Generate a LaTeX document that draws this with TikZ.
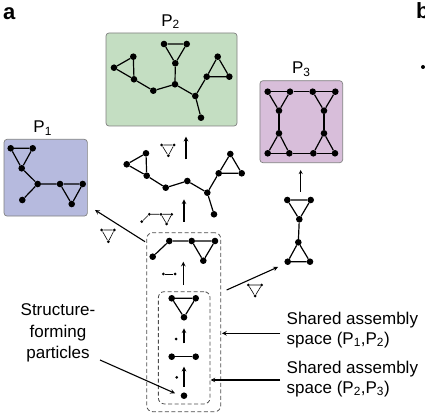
\documentclass[tikz,border=0pt]{standalone}
\usepackage{fontspec}
\setmainfont{Liberation Sans}
\usetikzlibrary{positioning,arrows}
\definecolor{boxone}{RGB}{182,186,222}
\definecolor{boxtwo}{RGB}{196,222,194}
\definecolor{boxthree}{RGB}{216,190,218}

\begin{document}
\begin{tikzpicture}[x=1pt,y=-1pt]

		\tikzstyle{module}=[rectangle,
			draw=black!50,line width=0.7pt,
			rounded corners=3pt,inner sep=0mm]
		\tikzstyle{spacebox}=[rectangle,
			draw=black!70,line width=0.8pt,
			dash pattern=on 4pt off 2.5pt,
			rounded corners=6pt,inner sep=0mm]
		\tikzstyle{dot}=[circle,fill=black,inner sep=0mm,minimum size=6.6pt]
		\tikzstyle{tdot}=[circle,fill=black,inner sep=0mm,minimum size=3pt]
		\tikzstyle{bond}=[draw=black,line width=1.2pt]
		\tikzstyle{tbond}=[draw=black,line width=0.6pt]
		\tikzstyle{arrow}=[->,>=stealth,draw=black,line width=1.1pt]
		\tikzstyle{txt}=[inner sep=0mm,font=\fontsize{17}{20}\selectfont]

		\useasboundingbox (0,0) rectangle (425,419);

		% panel letters
		\node[inner sep=0mm,font=\fontsize{22}{22}\selectfont\bfseries]	(panela)	at (9.2,13.3)	{a};
		\node[inner sep=0mm,anchor=base west,font=\fontsize{22}{22}\selectfont\bfseries]	(panelb)	at (416,18.3)	{b};
		\node[tdot,minimum size=4pt]	(bfrag)	at (423,67)	{};

		% products
		\node[module,fill=boxone,minimum width=83.3pt,minimum height=76.7pt]	(pone)	at (45.7,177.7)	{};
		\node[module,fill=boxtwo,minimum width=131pt,minimum height=93pt]	(ptwo)	at (171.5,79.5)	{};
		\node[module,fill=boxthree,minimum width=82.7pt,minimum height=82pt]	(pthree)	at (301.3,121.7)	{};
		\node[txt,above=3.5pt of pone,xshift=-3pt]	(lone)	{P\textsubscript{1}};
		\node[txt,above=3.5pt of ptwo,xshift=-1pt]	(ltwo)	{P\textsubscript{2}};
		\node[txt,above=3.5pt of pthree]	(lthree)	{P\textsubscript{3}};

		% shared assembly spaces
		\node[spacebox,minimum width=74pt,minimum height=179pt]	(outer)	at (183.7,322.2)	{};
		\node[spacebox,minimum width=51.7pt,minimum height=112.3pt]	(inner)	at (184.2,347.8)	{};

		% P1
		\node[dot]	(pa1)	at (10.7,148.3)	{};
		\node[dot]	(pa2)	at (32.7,148.3)	{};
		\node[dot]	(pa3)	at (21.7,168.3)	{};
		\node[dot]	(pb1)	at (37.7,184)	{};
		\node[dot]	(pb2)	at (60,184)	{};
		\node[dot]	(pb3)	at (82.7,184)	{};
		\node[dot]	(pb4)	at (71.7,204)	{};
		\node[dot]	(pb5)	at (22.3,200)	{};
		\draw[bond]	(pa1) -- (pa2) -- (pa3) -- (pa1);
		\draw[bond]	(pa3) -- (pb1) -- (pb2) -- (pb3) -- (pb4) -- (pb2);
		\draw[bond]	(pb1) -- (pb5);

		% P2
		\node[dot]	(ga1)	at (164,44)	{};
		\node[dot]	(ga2)	at (186.7,44)	{};
		\node[dot]	(ga3)	at (175.3,63.3)	{};
		\node[dot]	(gb1)	at (114,67.7)	{};
		\node[dot]	(gb2)	at (133.3,56.7)	{};
		\node[dot]	(gb3)	at (134,79.3)	{};
		\node[dot]	(gc1)	at (153.3,90.7)	{};
		\node[dot]	(gc2)	at (175,84.3)	{};
		\node[dot]	(gc3)	at (195.3,96)	{};
		\node[dot]	(gc4)	at (201,117.7)	{};
		\node[dot]	(gd1)	at (206.7,76.7)	{};
		\node[dot]	(gd2)	at (217.7,56.7)	{};
		\node[dot]	(gd3)	at (229.3,76.7)	{};
		\draw[bond]	(ga1) -- (ga2) -- (ga3) -- (ga1);
		\draw[bond]	(gb1) -- (gb2) -- (gb3) -- (gb1);
		\draw[bond]	(gd1) -- (gd2) -- (gd3) -- (gd1);
		\draw[bond]	(gb3) -- (gc1) -- (gc2) -- (gc3) -- (gc4);
		\draw[bond]	(ga3) -- (gc2);
		\draw[bond]	(gc3) -- (gd1);

		% P3
		\node[dot]	(qa1)	at (267.7,91.7)	{};
		\node[dot]	(qa2)	at (290,91.7)	{};
		\node[dot]	(qa3)	at (312.7,91.7)	{};
		\node[dot]	(qa4)	at (335.3,91.7)	{};
		\node[dot]	(qb1)	at (279,110.7)	{};
		\node[dot]	(qb2)	at (324,110.7)	{};
		\node[dot]	(qc1)	at (279,133.3)	{};
		\node[dot]	(qc2)	at (324,133.3)	{};
		\node[dot]	(qd1)	at (267.7,153.3)	{};
		\node[dot]	(qd2)	at (289.3,153.3)	{};
		\node[dot]	(qd3)	at (313.3,153.3)	{};
		\node[dot]	(qd4)	at (335,153.3)	{};
		\draw[bond]	(qa1) -- (qa2) -- (qa3) -- (qa4);
		\draw[bond]	(qd1) -- (qd2) -- (qd3) -- (qd4);
		\draw[bond]	(qa1) -- (qb1) -- (qa2);
		\draw[bond]	(qa3) -- (qb2) -- (qa4);
		\draw[bond]	(qd1) -- (qc1) -- (qd2);
		\draw[bond]	(qd3) -- (qc2) -- (qd4);
		\draw[bond]	(qb1) -- (qc1);
		\draw[bond]	(qb2) -- (qc2);

		% intermediate towards P3
		\node[dot]	(ra1)	at (287.3,200)	{};
		\node[dot]	(ra2)	at (310.7,200)	{};
		\node[dot]	(ra3)	at (299.3,219.3)	{};
		\node[dot]	(ra4)	at (298.3,242.3)	{};
		\node[dot]	(ra5)	at (287.7,261.7)	{};
		\node[dot]	(ra6)	at (310,261.7)	{};
		\draw[bond]	(ra1) -- (ra2) -- (ra3) -- (ra1);
		\draw[bond]	(ra4) -- (ra5) -- (ra6) -- (ra4);
		\draw[bond]	(ra3) -- (ra4);

		% intermediate towards P2
		\node[dot]	(ma1)	at (126.7,164.3)	{};
		\node[dot]	(ma2)	at (146,153.3)	{};
		\node[dot]	(ma3)	at (146.7,175.7)	{};
		\node[dot]	(mb1)	at (165.7,187.7)	{};
		\node[dot]	(mb2)	at (187.3,181)	{};
		\node[dot]	(mb3)	at (207.3,192.7)	{};
		\node[dot]	(mb4)	at (214,214.3)	{};
		\node[dot]	(mc1)	at (218.7,173.3)	{};
		\node[dot]	(mc2)	at (230.3,154)	{};
		\node[dot]	(mc3)	at (241.7,173.3)	{};
		\draw[bond]	(ma1) -- (ma2) -- (ma3) -- (ma1);
		\draw[bond]	(mc1) -- (mc2) -- (mc3) -- (mc1);
		\draw[bond]	(ma3) -- (mb1) -- (mb2) -- (mb3) -- (mb4);
		\draw[bond]	(mb3) -- (mc1);

		% inside the shared spaces
		\node[dot]	(oa1)	at (152.7,256.7)	{};
		\node[dot]	(oa2)	at (169.3,241)	{};
		\node[dot]	(oa3)	at (191.7,241)	{};
		\node[dot]	(oa4)	at (215,241)	{};
		\node[dot]	(oa5)	at (203.3,260.7)	{};
		\draw[bond]	(oa1) -- (oa2) -- (oa3) -- (oa4) -- (oa5) -- (oa3);
		\node[dot]	(ia1)	at (171.7,298.3)	{};
		\node[dot]	(ia2)	at (195.7,298.3)	{};
		\node[dot]	(ia3)	at (184,317.3)	{};
		\draw[bond]	(ia1) -- (ia2) -- (ia3) -- (ia1);
		\node[dot]	(ib1)	at (171.7,356.7)	{};
		\node[dot]	(ib2)	at (195.7,356.7)	{};
		\draw[bond]	(ib1) -- (ib2);
		\node[dot]	(ic)	at (184,395.7)	{};

		% small fragments
		\node[tdot]	(sa1)	at (161.7,145)	{};
		\node[tdot]	(sa2)	at (174,145)	{};
		\node[tdot]	(sa3)	at (168.3,155.7)	{};
		\draw[tbond]	(sa1) -- (sa2) -- (sa3) -- (sa1);
		\node[tdot]	(sb1)	at (141.7,221.7)	{};
		\node[tdot]	(sb2)	at (149.3,214.3)	{};
		\node[tdot]	(sb3)	at (161,214.3)	{};
		\node[tdot]	(sb4)	at (171.7,214.3)	{};
		\node[tdot]	(sb5)	at (166.7,224)	{};
		\draw[tbond]	(sb1) -- (sb2) -- (sb3) -- (sb4) -- (sb5) -- (sb3);
		\node[tdot]	(sc1)	at (101.7,230)	{};
		\node[tdot]	(sc2)	at (114.3,230)	{};
		\node[tdot]	(sc3)	at (108.3,241.7)	{};
		\draw[tbond]	(sc1) -- (sc2) -- (sc3) -- (sc1);
		\node[tdot]	(sd1)	at (248.3,285)	{};
		\node[tdot]	(sd2)	at (261.7,285)	{};
		\node[tdot]	(sd3)	at (255,296)	{};
		\draw[tbond]	(sd1) -- (sd2) -- (sd3) -- (sd1);
		\node[tdot]	(se1)	at (163.3,274)	{};
		\node[tdot]	(se2)	at (175,274)	{};
		\draw[tbond]	(se1) -- (se2);
		\node[tdot]	(sf)	at (176,339)	{};
		\node[tdot]	(sg)	at (176.7,377.3)	{};

		% labels
		\node[txt,font=\fontsize{17}{21.7}\selectfont,align=center]	(parts)	at (58,333)	{Structure-\\forming\\particles};
		\node[txt,align=left,anchor=west]	(shone)	at (286.5,330)	{Shared assembly\\space (P\textsubscript{1},P\textsubscript{2})};
		\node[txt,align=left,anchor=west]	(shtwo)	at (286.5,379)	{Shared assembly\\space (P\textsubscript{2},P\textsubscript{3})};

		% arrow ends
		\coordinate	(u1s)	at (186,159.3);
		\coordinate	(u1e)	at (186,136.7);
		\coordinate	(u2s)	at (184,221.7);
		\coordinate	(u2e)	at (184,199.3);
		\coordinate	(u3s)	at (183.3,285);
		\coordinate	(u3e)	at (183.3,261.7);
		\coordinate	(u4s)	at (184,343.3);
		\coordinate	(u4e)	at (184,328.3);
		\coordinate	(u5s)	at (184,386.7);
		\coordinate	(u5e)	at (184,366.7);
		\coordinate	(u6s)	at (300.7,191.7);
		\coordinate	(u6e)	at (300.7,170);
		\coordinate	(tos)	at (145,241.7);
		\coordinate	(toe)	at (95,210);
		\coordinate	(trs)	at (226.7,290);
		\coordinate	(tre)	at (278,267);
		\coordinate	(pts)	at (100,360);
		\coordinate	(pte)	at (175,393.3);
		\coordinate	(h1s)	at (280,333.3);
		\coordinate	(h1e)	at (222,333.3);
		\coordinate	(h2s)	at (280,380);
		\coordinate	(h2e)	at (210.5,380);

		\draw[arrow]	(u1s) -- (u1e);
		\draw[arrow]	(u2s) -- (u2e);
		\draw[arrow]	(u3s) -- (u3e);
		\draw[arrow]	(u4s) -- (u4e);
		\draw[arrow]	(u5s) -- (u5e);
		\draw[arrow,line width=0.8pt]	(u6s) -- (u6e);
		\draw[arrow]	(tos) -- (toe);
		\draw[arrow]	(trs) -- (tre);
		\draw[arrow]	(pts) -- (pte);
		\draw[arrow]	(h1s) -- (h1e);
		\draw[arrow]	(h2s) -- (h2e);

	\end{tikzpicture}
\end{document}
